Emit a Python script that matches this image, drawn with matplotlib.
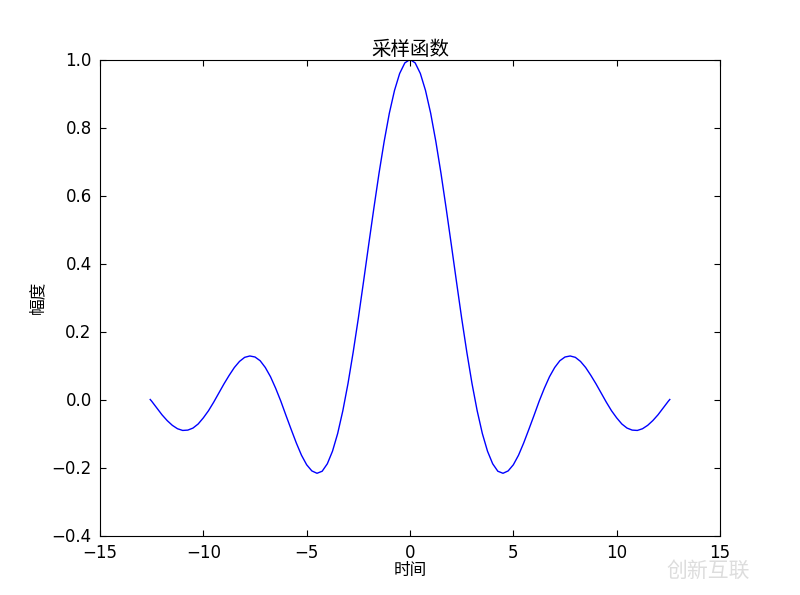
import matplotlib
matplotlib.use("Agg")
import matplotlib.pyplot as plt

# ---------------- DATA (x >= 0 half, curve is symmetric) ----------------
x_half = [0.0, 0.25, 0.5, 0.75, 1.0, 1.25, 1.5, 1.75, 2.0, 2.25, 2.5, 2.75, 3.0, 3.25,
          3.5, 3.75, 4.0, 4.25, 4.5, 4.75, 5.0, 5.25, 5.5, 5.75, 6.0, 6.25, 6.5, 6.75,
          7.0, 7.25, 7.5, 7.75, 8.0, 8.25, 8.5, 8.75, 9.0, 9.25, 9.5, 9.75, 10.0,
          10.25, 10.5, 10.75, 11.0, 11.25, 11.5, 11.75, 12.0, 12.25, 12.5, 12.57]
y_half = [1.0, 0.990, 0.959, 0.909, 0.842, 0.759, 0.665, 0.562, 0.455, 0.346, 0.239,
          0.139, 0.047, -0.033, -0.100, -0.152, -0.189, -0.211, -0.217, -0.210, -0.192,
          -0.164, -0.128, -0.088, -0.047, -0.005, 0.033, 0.067, 0.094, 0.114, 0.125,
          0.128, 0.124, 0.112, 0.094, 0.071, 0.046, 0.019, -0.008, -0.033, -0.054,
          -0.072, -0.084, -0.090, -0.091, -0.086, -0.076, -0.062, -0.045, -0.025,
          -0.005, 0.0]

x_vals = [-v for v in x_half[::-1]] + x_half[1:]
y_vals = y_half[::-1] + y_half[1:]

title_text = "采样函数"
xlabel_text = "时间"
ylabel_text = "幅度"

xticks = [-15, -10, -5, 0, 5, 10, 15]
yticks = [-0.4, -0.2, 0.0, 0.2, 0.4, 0.6, 0.8, 1.0]

# ---------------- PLOT ----------------
plt.rcParams['font.family'] = ['Noto Sans CJK SC', 'DejaVu Sans']
plt.rcParams['font.size'] = 12

fig = plt.figure(figsize=(8, 5.95), dpi=100)
ax = fig.add_axes([0.125, 0.1, 0.775, 0.8])

ax.plot(x_vals, y_vals, color='b', linewidth=1)

ax.set_xlim(-15, 15)
ax.set_ylim(-0.4, 1.0)
ax.set_xticks(xticks)
ax.set_yticks(yticks)
ax.set_yticklabels(["%.1f" % t if t >= 0 else "\u2212%.1f" % -t for t in yticks],
                   family='DejaVu Sans')
ax.set_xticklabels([str(t) if t >= 0 else "\u2212%d" % -t for t in xticks],
                   family='DejaVu Sans')
ax.tick_params(direction='in', top=True, right=True, length=4, pad=6)

ax.set_title(title_text, fontsize=14, pad=3)
ax.set_xlabel(xlabel_text, labelpad=0)
ax.set_ylabel(ylabel_text, labelpad=4)

# watermark in the corner
fig.text(0.885, 0.04, "创新互联", color='#dddddd', fontsize=15, ha='center', va='center')

fig.savefig("out.png", dpi=100, facecolor='white')
